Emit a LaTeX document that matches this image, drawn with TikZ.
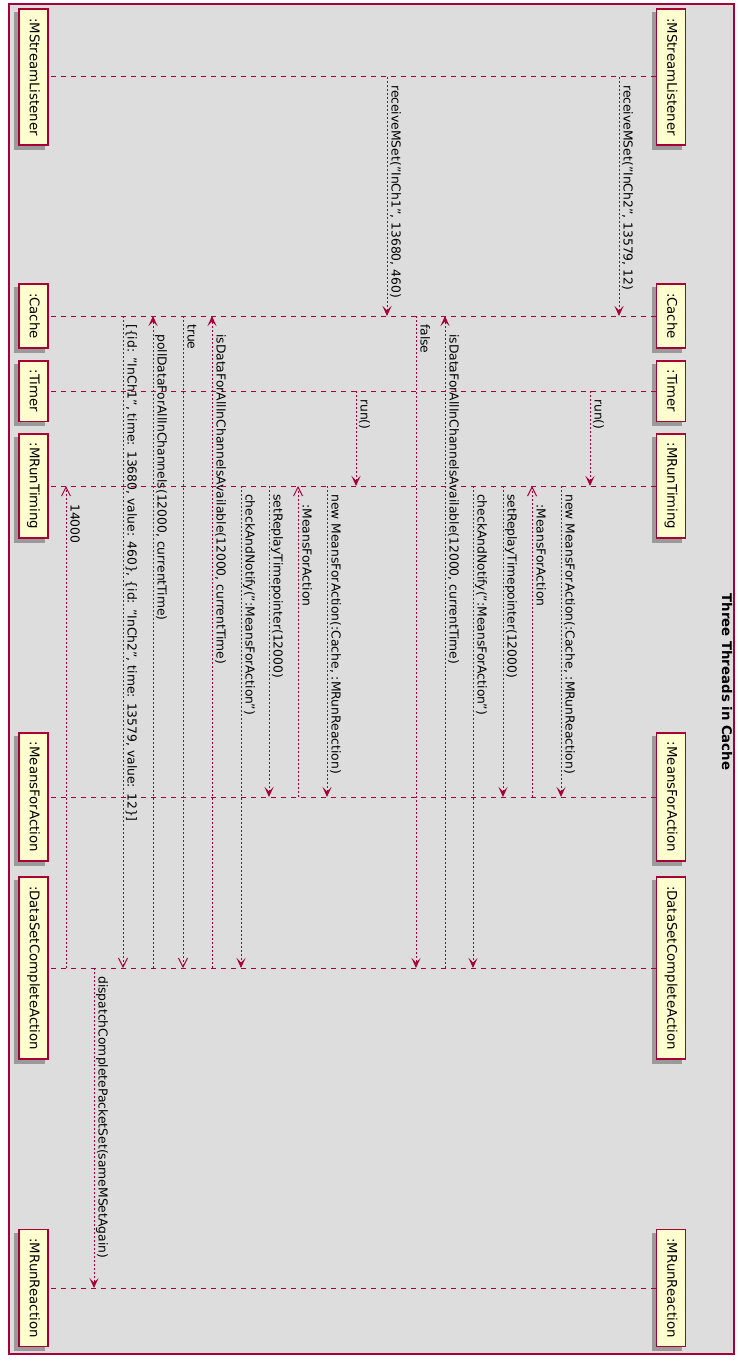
\documentclass[tikz,border=0pt]{standalone}
\usepackage{fontspec}
\setmainfont{DejaVu Sans}
\usetikzlibrary{arrows.meta}
\definecolor{umlred}{HTML}{A80036}
\definecolor{umlfill}{HTML}{FEFECE}
\definecolor{umlbg}{HTML}{DDDDDD}
\definecolor{umlshadow}{HTML}{9A9A9A}
\pgfdeclarelayer{frame}
\pgfdeclarelayer{shadow}
\pgfsetlayers{frame,shadow,main}
\newcommand\umlmsg[6]{%
  \coordinate (a#1) at (#1,#2);
  \coordinate (b#1) at (#1,#3);
  \draw[#4] (a#1) -- (b#1);
  \node[lbl] (t#1) at (#1+4.5,#5) {#6};}
\begin{document}
\begin{tikzpicture}[x=1pt,y=-1pt,
  part/.style={draw=umlred, line width=1.5pt, fill=umlfill, rotate=-90,
    font=\fontsize{13.3}{16}\selectfont, inner xsep=9pt, inner ysep=0pt,
    minimum height=29pt, text height=9.7pt, text depth=2.6pt},
  life/.style={umlred, line width=1pt, dash pattern=on 5pt off 5pt},
  msg/.style={umlred, line width=1pt, dash pattern=on 2pt off 2pt},
  sync/.style={msg, -{Stealth[length=10pt,width=9pt,inset=4.5pt]}},
  ret/.style={msg, -{Straight Barb[length=9pt,width=9pt]}},
  lbl/.style={rotate=-90, anchor=base west, inner sep=0pt,
    font=\fontsize{12.35}{14}\selectfont, text=black}]
\useasboundingbox (0,0) rectangle (739,1364);
\def\yMS{77}\def\yC{316}\def\yT{391}\def\yR{486}\def\yM{797}\def\yD{968}\def\yX{1288}
\begin{pgfonlayer}{frame}
  \path[fill=umlbg, draw=umlred, line width=1.5pt] (9,4) rectangle (734,1354);
\end{pgfonlayer}
\node[rotate=-90, font=\fontsize{13.3}{16}\selectfont\bfseries] (title) at (727,682) {Three Threads in Cache};
% participants
\node[part] (msR) at (671,\yMS) {:MStreamListener};
\node[part] (msL) at (33.3,\yMS) {:MStreamListener};
\node[part] (cR) at (671,\yC) {:Cache};
\node[part] (cL) at (33.3,\yC) {:Cache};
\node[part] (tR) at (671,\yT) {:Timer};
\node[part] (tL) at (33.3,\yT) {:Timer};
\node[part] (rtR) at (671,\yR) {:MRunTiming};
\node[part] (rtL) at (33.3,\yR) {:MRunTiming};
\node[part] (mfR) at (671,\yM) {:MeansForAction};
\node[part] (mfL) at (33.3,\yM) {:MeansForAction};
\node[part] (dsR) at (671,\yD) {:DataSetCompleteAction};
\node[part] (dsL) at (33.3,\yD) {:DataSetCompleteAction};
\node[part] (rrR) at (671,\yX) {:MRunReaction};
\node[part] (rrL) at (33.3,\yX) {:MRunReaction};
\begin{pgfonlayer}{shadow}
  \foreach \n in {msR,msL,cR,cL,tR,tL,rtR,rtL,mfR,mfL,dsR,dsL,rrR,rrL}{
    \fill[umlshadow] ([shift={(-4pt,-4pt)}]\n.north east) rectangle ([shift={(-4pt,-4pt)}]\n.south west);}
  \foreach \n in {ms,c,t,rt,mf,ds,rr}{
    \draw[life] (\n R.south) -- (\n L.north);}
\end{pgfonlayer}
% messages
\umlmsg{619}{\yMS}{\yC}{sync}{85}{receiveMSet("InCh2", 13579, 12)}
\umlmsg{590}{\yT}{\yR}{sync}{399}{run()}
\umlmsg{561}{\yR}{\yM}{sync}{494}{new MeansForAction(:Cache, :MRunReaction)}
\umlmsg{532}{\yM}{\yR}{ret}{504}{:MeansForAction}
\umlmsg{503}{\yR}{\yM}{sync}{494}{setReplayTimepointer(12000)}
\umlmsg{473}{\yR}{\yD}{sync}{494}{checkAndNotify(":MeansForAction")}
\umlmsg{445}{\yD}{\yC}{sync}{334}{isDataForAllInChannelsAvailable(12000, currentTime)}
\umlmsg{416}{\yC}{\yD}{sync}{324}{false}
\umlmsg{387}{\yMS}{\yC}{sync}{85}{receiveMSet("InCh1", 13680, 460)}
\umlmsg{356}{\yT}{\yR}{sync}{399}{run()}
\umlmsg{327}{\yR}{\yM}{sync}{494}{new MeansForAction(:Cache, :MRunReaction)}
\umlmsg{298}{\yM}{\yR}{ret}{504}{:MeansForAction}
\umlmsg{269}{\yR}{\yM}{sync}{494}{setReplayTimepointer(12000)}
\umlmsg{241}{\yR}{\yD}{sync}{494}{checkAndNotify(":MeansForAction")}
\umlmsg{212}{\yD}{\yC}{sync}{334}{isDataForAllInChannelsAvailable(12000, currentTime)}
\umlmsg{183}{\yC}{\yD}{ret}{324}{true}
\umlmsg{153}{\yD}{\yC}{sync}{334}{pollDataForAllInChannels(12000, currentTime)}
\umlmsg{123}{\yC}{\yD}{ret}{324}{[\{id: "InCh1", time: 13680, value: 460\}, \{id: "InCh2", time: 13579, value: 12\}]}
\umlmsg{94}{\yD}{\yX}{sync}{976}{dispatchCompletePacketSet(sameMSetAgain)}
\umlmsg{66}{\yD}{\yR}{ret}{504}{14000}
\end{tikzpicture}
\end{document}
